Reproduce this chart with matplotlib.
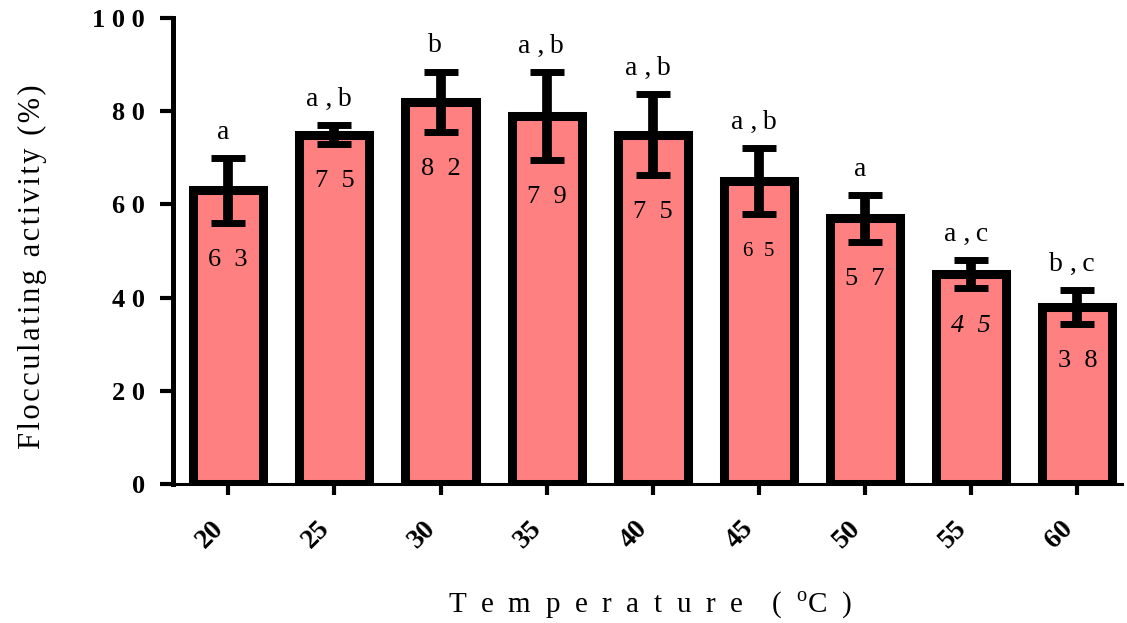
import numpy as np
import matplotlib
matplotlib.use("Agg")
import matplotlib.pyplot as plt

# flocculating activity vs temperature, mean +/- error, with group letters
temps = ["20", "25", "30", "35", "40", "45", "50", "55", "60"]
activity = [63, 75, 82, 79, 75, 65, 57, 45, 38]
err = [7.0, 2.0, 6.5, 9.5, 8.6, 7.0, 5.0, 3.0, 3.7]
groups = ["a", "a,b", "b", "a,b", "a,b", "a,b", "a", "a,c", "b,c"]
yticks = [0, 20, 40, 60, 80, 100]

# per-bar look of the value labels
val_size = [19, 19, 19, 19, 19, 15, 19, 19, 19]
val_style = ["normal"] * 7 + ["italic", "normal"]

EN = "\u2002"
THIN = "\u2009"
HAIR = "\u200a"


def spaced(s, gap=EN):
    return gap.join(s)


plt.rcParams["font.family"] = ["Liberation Serif", "DejaVu Serif"]
plt.rcParams["mathtext.fontset"] = "custom"
plt.rcParams["mathtext.rm"] = "Liberation Serif"

fig = plt.figure(figsize=(11.27, 6.23), dpi=100)
ax = fig.add_axes([0.1535, 0.2231, 0.8421, 0.748])
x = np.arange(len(temps))

ax.bar(x, activity, width=0.66, color="#FF8080", edgecolor="black", linewidth=6.5, zorder=2)
ax.errorbar(x, activity, yerr=err, fmt="none", ecolor="black", elinewidth=7,
            capsize=12.5, capthick=5, zorder=3)

for xi, v, e, g, fs, st in zip(x, activity, err, groups, val_size, val_style):
    ax.text(xi, v - e - 8, spaced(str(v)), ha="center", va="center", fontsize=fs, style=st, zorder=4)
    ax.text(xi - 0.05, v + e + 5.5, g.replace(",", " ," + THIN), ha="center", va="center", fontsize=20)

ax.set_xlim(-0.52, 8.42)
ax.set_ylim(0, 100)
for s in ["top", "right"]:
    ax.spines[s].set_visible(False)
ax.spines["left"].set_linewidth(3.6)
ax.spines["bottom"].set_linewidth(2.2)

ax.set_yticks(yticks)
ax.set_yticklabels([spaced(str(t), " ") for t in yticks], fontsize=19, fontweight="bold")
ax.tick_params(axis="y", length=9.4, width=3, pad=11)
ax.set_xticks(x)
ax.set_xticklabels(temps, fontsize=20, fontweight="bold", rotation=45, ha="right")
ax.tick_params(axis="x", length=8, width=3, pad=15)

fig.text(32 / 1127, 1 - 267 / 623, spaced("Flocculating activity (%)", HAIR),
         rotation=90, ha="center", va="center", fontsize=22)
xlab = spaced("Temperature") + EN * 2 + "(" + EN + r"$^{\mathrm{o}}$C" + EN + ")"
fig.text(650 / 1127, 1 - 605 / 623, xlab, ha="center", va="center", fontsize=21)

fig.savefig("out.png", dpi=100)
